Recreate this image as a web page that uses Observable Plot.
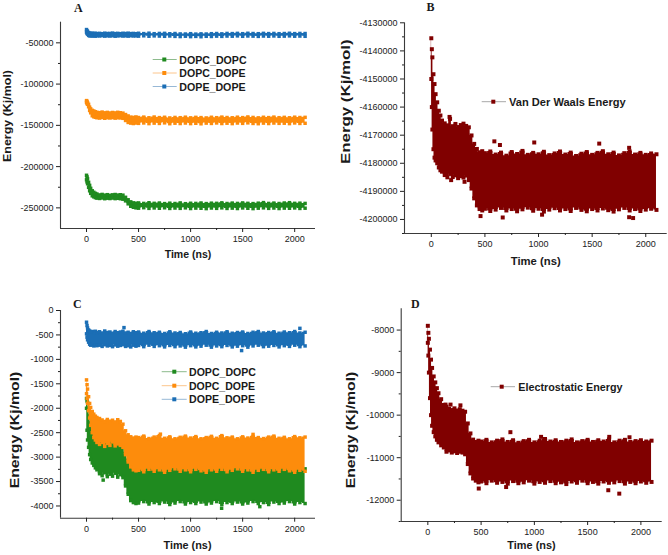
<!DOCTYPE html>
<html><head><meta charset="utf-8">
<script src="https://cdn.jsdelivr.net/npm/d3@7"></script>
<script src="https://cdn.jsdelivr.net/npm/@observablehq/plot@0.6"></script>
<style>
body{margin:0;background:#fff}
#root{position:relative;width:668px;height:555px;overflow:hidden;background:#fff}
.pane{position:absolute}
#overlay{position:absolute;left:0;top:0}
</style></head><body><div id="root"></div>
<script>
// ---------- shared time axis (ns) ----------
const time = [0,5,10,20,30,40,55,70,85,100,125,150,175,200,225,250,275,300,325,350,375,400,425,450,475,
  500,550,600,650,700,750,800,850,900,950,1000,1050,1100,1150,1200,1250,1300,1350,1400,1450,1500,1550,1600,1650,1700,1750,1800,1850,1900,1950,2000,2050,2100];
const xMajor = [0,500,1000,1500,2000];
const xMinor = [250,750,1250,1750];
const xDomain = [-250,2200];

// ---------- Panel A (total interaction energy, Kj/mol) ----------
const A_seriesNames = ["DOPC_DOPC","DOPC_DOPE","DOPE_DOPE"];
const A_DOPE_DOPE_hi = [-33900,-35500,-36200,-37600,-38200,-38600,-38300,-38700,-38400,-38800,
  -38500,-38900,-38300,-38700,-38600,-38200,-38800,-38500,-38900,-38400,-38700,-38300,-38800,-38600,-38900,
  -38400,-38800,-38300,-38900,-38600,-38500,-39000,-38700,-39200,-39300,-38900,-39400,-39100,-39300,-38900,-38700,-39100,-38600,-38800,-38500,-38900,-38400,-38700,-38900,-38500,-38800,-38600,-38900,-38700,-38400,-38800,-38600,-38700];
const A_DOPE_DOPE_lo = [-37000,-38500,-39500,-41000,-41600,-41300,-41800,-41400,-41900,-41500,
  -41700,-41300,-41900,-41500,-41800,-41400,-42000,-41600,-41300,-41800,-41500,-41900,-41400,-41700,-41600,
  -41900,-41500,-42000,-41600,-41800,-42100,-41700,-42200,-42400,-42000,-42500,-42200,-42600,-42100,-42300,-41900,-42200,-41800,-42000,-41600,-42100,-41700,-41900,-42200,-41800,-42000,-41700,-42100,-41900,-41600,-42000,-41800,-42100];
const A_DOPC_DOPE_hi = [-120000,-121000,-122500,-124500,-128000,-130000,-131800,-132600,-133500,-134200,
  -134600,-133900,-134800,-134300,-135000,-134400,-134900,-134200,-134700,-135200,-136900,-138600,-140000,-140400,-139800,
  -140500,-140000,-140800,-139900,-140600,-140200,-141000,-140400,-140700,-140100,-140900,-140300,-140600,-141000,-140200,-140700,-140000,-140500,-140800,-140100,-140600,-139800,-140400,-140900,-140200,-140600,-140000,-140700,-140300,-140800,-140100,-140500,-140300];
const A_DOPC_DOPE_lo = [-122000,-123500,-124500,-127500,-132000,-134800,-138400,-139600,-140200,-140800,
  -141200,-140500,-141400,-140700,-141100,-140600,-141300,-140800,-141000,-141500,-144100,-146500,-147300,-147800,-147200,
  -147600,-147100,-147900,-147300,-147700,-147000,-148000,-147400,-147800,-147200,-147900,-147500,-148100,-147300,-147700,-147100,-147800,-147400,-147900,-147200,-147600,-147000,-147700,-148000,-147300,-147800,-147200,-147600,-147400,-147900,-147100,-147700,-147500];
const A_DOPC_DOPC_hi = [-210500,-212500,-214800,-219000,-222700,-226300,-229300,-231100,-232400,-233200,
  -234300,-233700,-234600,-234000,-234800,-234200,-233800,-234500,-234100,-234600,-237200,-240200,-242700,-243900,-244400,
  -244000,-244600,-243800,-244500,-244100,-244800,-244300,-244700,-244000,-244900,-244400,-244600,-244100,-244800,-244300,-244500,-243900,-244700,-244200,-244600,-244000,-244500,-244800,-244300,-243600,-244600,-244200,-244700,-244100,-243700,-244500,-244300,-244600];
const A_DOPC_DOPC_lo = [-216000,-218500,-220800,-225100,-229300,-232400,-235400,-236600,-237600,-238200,
  -238600,-238000,-238900,-238300,-238700,-238100,-238800,-238400,-238900,-239500,-241500,-245100,-248100,-249300,-250000,
  -250400,-249800,-250600,-250100,-250500,-249900,-250700,-250200,-250600,-250000,-250800,-250300,-250500,-250900,-250200,-250600,-250000,-250700,-250300,-250800,-250100,-250500,-250900,-250400,-250000,-250600,-250200,-250800,-250300,-250500,-250100,-250700,-250400];
const A_yMajor = [-50000,-100000,-150000,-200000,-250000];
const A_yMinor = [-75000,-125000,-175000,-225000];
const A_yDomain = [-275000,-25000];

// ---------- Panel B (Van der Waals energy) ----------
const B_hi = [-4135500,-4139400,-4142300,-4148300,-4151800,-4155400,-4158300,-4161300,-4163000,-4164800,
  -4165800,-4166500,-4164200,-4166800,-4166000,-4167100,-4166400,-4165900,-4166700,-4167200,-4170100,-4173100,-4174900,-4176100,-4175700,
  -4176400,-4175800,-4176900,-4176200,-4177300,-4176000,-4176700,-4175600,-4177000,-4176300,-4176800,-4175900,-4177100,-4176500,-4175800,-4176900,-4176200,-4177400,-4176600,-4176000,-4177000,-4176300,-4175700,-4176800,-4176200,-4177200,-4176400,-4175800,-4176900,-4176300,-4177000,-4176500,-4176800];
const B_lo = [-4150000,-4160000,-4168000,-4175000,-4178000,-4179000,-4180000,-4181500,-4182500,-4183000,
  -4184200,-4185000,-4183800,-4184900,-4184300,-4185300,-4184600,-4185100,-4184400,-4186000,-4189000,-4192500,-4195000,-4196300,-4196800,
  -4196200,-4197000,-4196500,-4195900,-4196800,-4196300,-4197100,-4196400,-4195800,-4196900,-4196200,-4197200,-4196500,-4196000,-4196800,-4196300,-4197000,-4195900,-4196600,-4197100,-4196300,-4196800,-4196100,-4196700,-4197200,-4196400,-4195900,-4196800,-4196300,-4197000,-4196500,-4196200,-4196600];
const B_outT = [170,185,310,588,640,960,1566,1845,459,666,1033,1845,1882];
const B_outV = [-4163500,-4186000,-4186600,-4172200,-4173500,-4172600,-4173000,-4174500,-4198800,-4199300,-4198300,-4199200,-4199500];
const B_yMajor = [-4130000,-4140000,-4150000,-4160000,-4170000,-4180000,-4190000,-4200000];
const B_yMinor = [-4135000,-4145000,-4155000,-4165000,-4175000,-4185000,-4195000,-4205000];
const B_yDomain = [-4205000,-4130000];

// ---------- Panel C (pair interaction energy) ----------
const C_DOPE_DOPE_hi = [-240,-308,-357,-398,-420,-445,-430,-455,-425,-450,
  -435,-460,-420,-450,-440,-465,-430,-455,-440,-425,-460,-445,-470,-435,-455,
  -440,-465,-430,-455,-445,-470,-435,-460,-450,-475,-440,-465,-455,-430,-470,-445,-460,-435,-465,-450,-440,-470,-445,-430,-460,-450,-435,-465,-440,-455,-430,-460,-445];
const C_DOPE_DOPE_lo = [-477,-545,-600,-648,-690,-710,-700,-725,-705,-720,
  -710,-735,-700,-725,-715,-740,-705,-730,-715,-700,-735,-720,-745,-710,-730,
  -715,-740,-710,-735,-720,-745,-715,-740,-725,-750,-720,-745,-730,-710,-750,-725,-740,-715,-745,-730,-720,-750,-725,-710,-740,-730,-715,-745,-720,-735,-710,-740,-725];
const C_DOPE_DOPE_outT = [360,1490,2050];
const C_DOPE_DOPE_outV = [-350,-820,-365];
const C_DOPC_DOPE_hi = [-1420,-1518,-1608,-1764,-1902,-1984,-2066,-2121,-2162,-2189,
  -2210,-2240,-2270,-2230,-2265,-2245,-2280,-2235,-2270,-2326,-2461,-2543,-2584,-2610,-2590,
  -2600,-2570,-2620,-2590,-2560,-2615,-2585,-2625,-2595,-2570,-2610,-2580,-2625,-2600,-2575,-2615,-2560,-2605,-2590,-2625,-2585,-2610,-2575,-2600,-2620,-2590,-2570,-2615,-2595,-2625,-2580,-2605,-2590];
const C_DOPC_DOPE_lo = [-1700,-1800,-1900,-2050,-2200,-2350,-2500,-2600,-2650,-2700,
  -2740,-2700,-2780,-2720,-2760,-2690,-2770,-2730,-2760,-2800,-2950,-3100,-3200,-3260,-3280,
  -3270,-3300,-3250,-3290,-3260,-3310,-3270,-3240,-3290,-3260,-3300,-3250,-3280,-3310,-3260,-3290,-3250,-3300,-3270,-3240,-3290,-3260,-3310,-3270,-3250,-3300,-3260,-3290,-3250,-3280,-3310,-3270,-3290];
const C_DOPC_DOPE_outT = [710,1600];
const C_DOPC_DOPE_outV = [-2530,-2535];
const C_DOPC_DOPC_hi = [-1800,-1850,-1880,-2000,-2150,-2300,-2450,-2550,-2600,-2650,
  -2690,-2650,-2730,-2670,-2710,-2640,-2720,-2680,-2710,-2750,-2900,-3050,-3150,-3210,-3230,
  -3220,-3250,-3200,-3240,-3210,-3260,-3220,-3190,-3240,-3210,-3250,-3200,-3230,-3260,-3210,-3240,-3200,-3250,-3220,-3190,-3240,-3210,-3260,-3220,-3200,-3250,-3210,-3240,-3200,-3230,-3260,-3220,-3240];
const C_DOPC_DOPC_lo = [-2000,-2450,-2650,-2800,-2950,-3050,-3120,-3170,-3220,-3260,
  -3340,-3380,-3320,-3400,-3350,-3390,-3330,-3410,-3360,-3420,-3590,-3760,-3890,-3930,-3950,
  -3940,-3910,-3960,-3930,-3950,-3920,-3970,-3940,-3910,-3960,-3930,-3950,-3920,-3960,-3940,-3910,-3970,-3930,-3950,-3920,-3960,-3940,-3910,-3950,-3930,-3970,-3920,-3950,-3940,-3910,-3960,-3930,-3950];
const C_DOPC_DOPC_outT = [160,1298,1665];
const C_DOPC_DOPC_outV = [-3470,-4047,-4014];
const C_yMajor = [0,-500,-1000,-1500,-2000,-2500,-3000,-3500,-4000];
const C_yMinor = [-250,-750,-1250,-1750,-2250,-2750,-3250,-3750];
const C_yDomain = [-4250,0];

// ---------- Panel D (electrostatic energy) ----------
const D_hi = [-7900,-8065,-8205,-8460,-8695,-8890,-9090,-9230,-9365,-9485,
  -9625,-9760,-9800,-9850,-9880,-9840,-9890,-9860,-9895,-9920,-10195,-10430,-10575,-10630,-10600,
  -10620,-10580,-10640,-10600,-10570,-10630,-10590,-10650,-10610,-10580,-10640,-10600,-10560,-10620,-10590,-10630,-10600,-10570,-10640,-10610,-10580,-10630,-10590,-10620,-10570,-10640,-10600,-10580,-10630,-10610,-10590,-10620,-10600];
const D_lo = [-8300,-8600,-9000,-9600,-10000,-10250,-10400,-10500,-10580,-10640,
  -10710,-10760,-10860,-10830,-10880,-10850,-10890,-10860,-10880,-10920,-11150,-11370,-11490,-11540,-11580,
  -11560,-11600,-11540,-11590,-11570,-11610,-11550,-11600,-11580,-11540,-11610,-11570,-11590,-11550,-11600,-11580,-11620,-11560,-11590,-11540,-11600,-11570,-11610,-11560,-11590,-11580,-11550,-11610,-11570,-11600,-11560,-11590,-11570];
const D_outT = [166,213,306,775,1063,1703,1893,478,735,1694,1797];
const D_outV = [-9752,-9752,-9770,-10400,-10510,-10510,-10520,-11725,-11690,-11765,-11845];
const D_yMajor = [-8000,-9000,-10000,-11000,-12000];
const D_yMinor = [-8500,-9500,-10500,-11500,-12500];
const D_yDomain = [-12500,-7500];

// ---------- colours ----------
const GREEN = "#1f8a1f", ORANGE = "#fd8c0c", BLUE = "#1b6eb5", MAROON = "#800000";
const AX = "#3a3a3a";
const FONT = "'Liberation Sans', Arial, sans-serif";

function rows(hi, lo){ return time.map((t,i)=>({t, hi:hi[i], lo:lo[i]})); }
function pts(T, V){ return T.map((t,i)=>({t, v:V[i]})); }

function panel(cfg){
  const marks = [];
  for (const s of cfg.series){
    const r = rows(s.hi, s.lo);
    marks.push(Plot.areaY(r, {x:"t", y1:"lo", y2:"hi", fill:s.color, curve:"step"}));
    marks.push(Plot.dot(r, {x:"t", y:"hi", symbol:"square", r:cfg.r, fill:s.color}));
    marks.push(Plot.dot(r, {x:"t", y:"lo", symbol:"square", r:cfg.r, fill:s.color}));
    if (s.outT) marks.push(Plot.dot(pts(s.outT, s.outV), {x:"t", y:"v", symbol:"square", r:cfg.r, fill:s.color}));
  }
  marks.push(Plot.ruleX([cfg.xDomain[0]], {stroke:AX, strokeWidth:1.1}));
  marks.push(Plot.ruleY([cfg.yDomain[0]], {stroke:AX, strokeWidth:1.1}));
  marks.push(Plot.axisY({ticks:cfg.yMajor, tickSize:4, tickPadding:3, tickFormat:d=>String(d), label:null, fontSize:9}));
  marks.push(Plot.axisY({ticks:cfg.yMinor, tickSize:2, tickFormat:()=>"", label:null}));
  marks.push(Plot.axisX({ticks:xMajor, tickSize:4, tickPadding:3, tickFormat:d=>String(d), label:null, fontSize:9}));
  marks.push(Plot.axisX({ticks:xMinor, tickSize:2, tickFormat:()=>"", label:null}));
  const svg = Plot.plot({
    width:cfg.w, height:cfg.h,
    marginLeft:cfg.ml, marginRight:cfg.mr, marginTop:cfg.mt, marginBottom:cfg.mb,
    x:{domain:cfg.xDomain}, y:{domain:cfg.yDomain},
    style:{fontFamily:FONT, fontSize:"9px", color:"#222", background:"transparent", overflow:"visible"},
    marks
  });
  const div = document.createElement("div");
  div.className = "pane";
  div.style.left = cfg.left+"px"; div.style.top = cfg.top+"px";
  div.appendChild(svg);
  document.getElementById("root").appendChild(div);
}

panel({left:0, top:0, w:334, h:275, ml:60, mr:19, mt:21.7, mb:47, r:1.95,
  xDomain, yDomain:A_yDomain, yMajor:A_yMajor, yMinor:A_yMinor,
  series:[
    {color:GREEN, hi:A_DOPC_DOPC_hi, lo:A_DOPC_DOPC_lo},
    {color:ORANGE, hi:A_DOPC_DOPE_hi, lo:A_DOPC_DOPE_lo},
    {color:BLUE, hi:A_DOPE_DOPE_hi, lo:A_DOPE_DOPE_lo}
  ]});
panel({left:334, top:0, w:334, h:275, ml:70, mr:1.3, mt:22.3, mb:42, r:2.25,
  xDomain, yDomain:B_yDomain, yMajor:B_yMajor, yMinor:B_yMinor,
  series:[{color:MAROON, hi:B_hi, lo:B_lo, outT:B_outT, outV:B_outV}]});
panel({left:0, top:275, w:334, h:280, ml:60, mr:19, mt:35, mb:37.3, r:1.95,
  xDomain, yDomain:C_yDomain, yMajor:C_yMajor, yMinor:C_yMinor,
  series:[
    {color:GREEN, hi:C_DOPC_DOPC_hi, lo:C_DOPC_DOPC_lo, outT:C_DOPC_DOPC_outT, outV:C_DOPC_DOPC_outV},
    {color:ORANGE, hi:C_DOPC_DOPE_hi, lo:C_DOPC_DOPE_lo, outT:C_DOPC_DOPE_outT, outV:C_DOPC_DOPE_outV},
    {color:BLUE, hi:C_DOPE_DOPE_hi, lo:C_DOPE_DOPE_lo, outT:C_DOPE_DOPE_outT, outV:C_DOPE_DOPE_outV}
  ]});
panel({left:334, top:275, w:334, h:280, ml:66.7, mr:6.3, mt:33.3, mb:34, r:2.25,
  xDomain, yDomain:D_yDomain, yMajor:D_yMajor, yMinor:D_yMinor,
  series:[{color:MAROON, hi:D_hi, lo:D_lo, outT:D_outT, outV:D_outV}]});

// ---------- overlay: panel letters, axis titles, legends ----------
const ov = d3.select("#root").append("svg").attr("id","overlay").attr("width",668).attr("height",555);
const TXT = "#1a1a1a";
function letter(s,x,y){ ov.append("text").attr("x",x).attr("y",y).attr("font-family","'Liberation Serif','Times New Roman',serif").attr("font-weight","bold").attr("font-size",12).attr("fill",TXT).text(s); }
letter("A",74,11.5); letter("B",426.5,11); letter("C",73,307.5); letter("D",411,307.5);

function ytitle(cx,cy,len,fs){
  ov.append("text").attr("transform",`translate(${cx},${cy}) rotate(-90)`).attr("text-anchor","middle")
    .attr("dominant-baseline","central").attr("font-family",FONT).attr("font-weight","bold").attr("font-size",fs)
    .attr("textLength",len).attr("lengthAdjust","spacingAndGlyphs").attr("fill",TXT).text("Energy (Kj/mol)");
}
function xtitle(cx,by,len,fs){
  ov.append("text").attr("x",cx).attr("y",by).attr("text-anchor","middle").attr("font-family",FONT)
    .attr("font-weight","bold").attr("font-size",fs).attr("textLength",len).attr("lengthAdjust","spacingAndGlyphs")
    .attr("fill",TXT).text("Time (ns)");
}
ytitle(6.5,116,92,11); ytitle(345.7,101.7,124.7,12.5); ytitle(15.3,430,116.7,12); ytitle(350.7,430,116.7,12);
xtitle(188,258,46.7,11); xtitle(535.7,264.5,50,11.5); xtitle(187.5,549,48,11.5); xtitle(531.5,549,48.3,11.5);

function legendRow(x1,x2,sx,tx,y,lineCol,col,label,len,fs){
  ov.append("line").attr("x1",x1).attr("x2",x2).attr("y1",y).attr("y2",y).attr("stroke",lineCol).attr("stroke-width",1);
  ov.append("rect").attr("x",sx-2).attr("y",y-2).attr("width",4).attr("height",4).attr("fill",col);
  ov.append("text").attr("x",tx).attr("y",y).attr("dominant-baseline","central").attr("font-family",FONT)
    .attr("font-weight","bold").attr("font-size",fs).attr("textLength",len).attr("lengthAdjust","spacingAndGlyphs")
    .attr("fill",TXT).text(label);
}
const legCols = [[ "#8dbb8d", GREEN ], [ "#fcc58c", ORANGE ], [ "#97b8d6", BLUE ]];
const A_len = [67.3,66.3,66.3], A_rows = [59.5,73,86.5];
A_seriesNames.forEach((n,i)=>legendRow(152.7,176.7,164.3,179.3,A_rows[i],legCols[i][0],legCols[i][1],n,A_len[i],10.5));
const C_rows = [371.7,385.7,399.3], C_len = [67,66,66];
A_seriesNames.forEach((n,i)=>legendRow(161.7,186.7,174.3,189,C_rows[i],legCols[i][0],legCols[i][1],n,C_len[i],10.5));
legendRow(481.7,506,493.3,509,101.7,"#a8a8a8",MAROON,"Van Der Waals Energy",116.7,11);
legendRow(490.7,515,501.7,518.3,386.7,"#a8a8a8",MAROON,"Electrostatic Energy",104.3,11);
</script></body></html>
